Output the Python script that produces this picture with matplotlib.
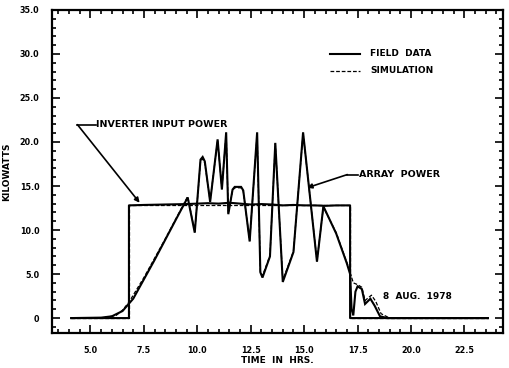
import matplotlib
matplotlib.use("Agg")
import matplotlib.pyplot as plt
from matplotlib.ticker import MultipleLocator, FixedLocator

# ---- data (hours, kW) ----
t_array_field = [4.1, 5.5, 6.0, 6.5, 7.0, 7.5, 8.0, 8.5, 9.0, 9.55, 9.88, 10.15, 10.25, 10.35,
                 10.6, 10.95, 11.15, 11.35, 11.45, 11.65, 11.75, 12.05, 12.15, 12.45, 12.8,
                 12.95, 13.05, 13.4, 13.65, 14.0, 14.5, 14.95, 15.6, 15.9, 16.5, 17.0, 17.15,
                 17.22, 17.3, 17.4, 17.5, 17.7, 17.85, 18.1, 18.3, 18.55, 18.9, 23.6]
p_array_field = [0.0, 0.05, 0.2, 0.8, 2.2, 4.4, 6.6, 8.9, 11.2, 13.7, 9.7, 18.0, 18.3, 17.8,
                 13.2, 20.3, 14.6, 21.1, 11.8, 14.6, 14.9, 14.9, 14.5, 8.7, 21.1,
                 5.2, 4.6, 7.0, 19.9, 4.1, 7.5, 21.1, 6.4, 12.7, 9.6, 6.2, 5.0,
                 1.0, 0.3, 3.0, 3.6, 3.3, 1.6, 2.2, 1.4, 0.2, 0.0, 0.0]

t_array_sim = [4.1, 5.5, 6.2, 6.5, 6.8, 7.0, 7.5, 8.0, 8.5, 9.0, 9.55, 9.88, 10.15, 10.25, 10.35,
               10.6, 10.95, 11.15, 11.35, 11.45, 11.65, 11.75, 12.05, 12.15, 12.45, 12.8,
               12.95, 13.05, 13.4, 13.65, 14.0, 14.5, 14.95, 15.6, 15.9, 16.5, 17.0, 17.15,
               17.3, 17.5, 17.7, 17.85, 18.15, 18.35, 18.6, 19.0, 23.6]
p_array_sim = [0.0, 0.0, 0.3, 0.9, 1.8, 2.6, 4.6, 6.8, 9.0, 11.3, 13.8, 9.8, 17.8, 18.1, 17.6,
               13.3, 20.2, 14.7, 21.0, 11.9, 14.5, 14.8, 14.8, 14.4, 8.8, 20.9,
               5.3, 4.8, 7.1, 19.8, 4.3, 7.6, 21.0, 6.5, 12.6, 9.7, 6.3, 5.2,
               4.0, 3.8, 3.5, 2.0, 2.6, 1.9, 0.5, 0.0, 0.0]

t_inv_field = [4.1, 6.8, 6.8, 7.5, 8.5, 9.5, 10.0, 10.5, 11.0, 11.5, 12.0, 12.5, 13.0, 13.5,
               14.0, 14.5, 15.0, 15.5, 16.0, 16.5, 17.15, 17.15, 23.6]
p_inv_field = [0.0, 0.0, 12.8, 12.85, 12.9, 12.95, 13.0, 13.05, 13.0, 13.1, 13.0, 12.9, 12.95,
               12.9, 12.8, 12.85, 12.8, 12.8, 12.75, 12.8, 12.8, 0.0, 0.0]

t_inv_sim = [4.1, 6.8, 6.8, 17.15, 17.15, 23.6]
p_inv_sim = [0.0, 0.0, 12.9, 12.9, 0.0, 0.0]

x_ticks = [5.0, 7.5, 10.0, 12.5, 15.0, 17.5, 20.0, 22.5]
x_tick_labels = ["5.0", "7.5", "10.0", "12.5", "15.0", "17.5", "20.0", "22.5"]
y_ticks = [0, 5, 10, 15, 20, 25, 30, 35]
y_tick_labels = ["0", "5.0", "10.0", "15.0", "20.0", "25.0", "30.0", "35.0"]

# ---- figure ----
plt.rcParams['font.family'] = ['DejaVu Sans']
fig = plt.figure(figsize=(5.10, 3.68), dpi=100)
ax = fig.add_axes([0.102, 0.095, 0.884, 0.878])

ax.plot(t_array_sim, p_array_sim, color="black", lw=0.9, ls=(0, (3, 1.5)))
ax.plot(t_inv_sim, p_inv_sim, color="black", lw=0.9, ls=(0, (3, 1.5)))
ax.plot(t_array_field, p_array_field, color="black", lw=1.5, solid_joinstyle="miter")
ax.plot(t_inv_field, p_inv_field, color="black", lw=1.5)

ax.set_xlim(3.2, 24.3)
ax.set_ylim(-1.7, 35.0)

ax.xaxis.set_major_locator(FixedLocator(x_ticks))
ax.xaxis.set_minor_locator(MultipleLocator(0.5))
ax.yaxis.set_major_locator(FixedLocator(y_ticks))
ax.yaxis.set_minor_locator(MultipleLocator(1.0))
ax.set_xticklabels(x_tick_labels, fontsize=5.8, fontweight="bold")
ax.set_yticklabels(y_tick_labels, fontsize=5.8, fontweight="bold")
ax.tick_params(which="both", direction="in", top=True, right=True, width=1.2)
ax.tick_params(which="major", length=6, pad=9)
ax.tick_params(which="minor", length=3)
ax.tick_params(axis="x", which="major", pad=9)
for s in ax.spines.values():
    s.set_linewidth(1.6)

ax.set_xlabel("TIME  IN  HRS.", fontsize=6.5, fontweight="bold", labelpad=1)
ax.set_ylabel("KILOWATTS", fontsize=6.5, fontweight="bold", labelpad=6)

# annotations
ax.annotate("", xy=(7.3, 13.1), xytext=(4.39, 21.97),
            arrowprops=dict(arrowstyle="-|>", color="black", lw=1.2, mutation_scale=7,
                            shrinkA=0, shrinkB=0))
ax.plot([4.39, 5.25], [21.97, 21.97], color="black", lw=1.2)
ax.text(5.28, 21.97, "INVERTER INPUT POWER", fontsize=6.8, fontweight="bold",
        va="center", ha="left")

ax.annotate("", xy=(15.14, 14.8), xytext=(17.02, 16.3),
            arrowprops=dict(arrowstyle="-|>", color="black", lw=1.2, mutation_scale=7,
                            shrinkA=0, shrinkB=0))
ax.plot([17.02, 17.5], [16.3, 16.3], color="black", lw=1.2)
ax.text(17.55, 16.3, "ARRAY  POWER", fontsize=6.8, fontweight="bold", va="center", ha="left")

# legend
ax.plot([16.2, 17.6], [30.0, 30.0], color="black", lw=1.5)
ax.text(18.1, 30.0, "FIELD  DATA", fontsize=6.5, fontweight="bold", va="center", ha="left")
ax.plot([16.2, 17.6], [28.1, 28.1], color="black", lw=0.9, ls=(0, (3, 1.5)))
ax.text(18.1, 28.1, "SIMULATION", fontsize=6.5, fontweight="bold", va="center", ha="left")

ax.text(20.3, 2.5, "8  AUG.  1978", fontsize=6.5, fontweight="bold", va="center", ha="center")

fig.savefig("out.png", dpi=100)
